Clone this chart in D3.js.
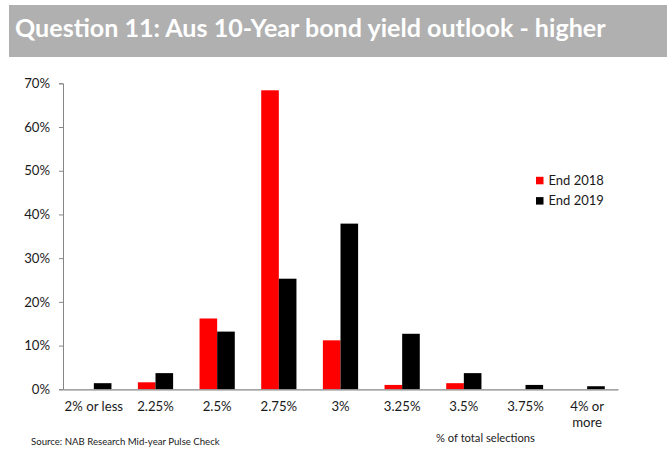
<!DOCTYPE html>
<html>
<head>
<meta charset="utf-8">
<script src="https://cdn.jsdelivr.net/npm/d3@7/dist/d3.min.js"></script>
<style>
  html, body { margin: 0; padding: 0; background: #fff; }
  svg { display: block; font-family: Lato, "Liberation Sans", sans-serif; }
</style>
</head>
<body>
<svg id="chart" width="667" height="451"></svg>
<script>
// Survey answers: share of total selections per yield bucket
const categories = ["2% or less", "2.25%", "2.5%", "2.75%", "3%", "3.25%", "3.5%", "3.75%", "4% or more"];
const seriesNames = ["End 2018", "End 2019"];
const end2018 = [0, 1.6, 16.2, 68.4, 11.2, 1.0, 1.4, 0, 0];
const end2019 = [1.4, 3.7, 13.2, 25.3, 37.9, 12.7, 3.7, 1.0, 0.7];
const yTicks = [0, 10, 20, 30, 40, 50, 60, 70];
const seriesColors = ["#ff0000", "#000000"];

const svg = d3.select("#chart");

// fit a text element to a given width by scaling its font size
function fitWidth(sel, size, width) {
  sel.attr("font-size", size);
  const w = sel.node().getComputedTextLength();
  sel.attr("font-size", size * width / w);
}

// Header band
svg.append("rect")
  .attr("x", 9).attr("y", 5).attr("width", 658).attr("height", 52)
  .attr("fill", "#b0b0b0");
const title = svg.append("text")
  .attr("x", 15).attr("y", 37)
  .attr("fill", "#ffffff")
  .attr("font-weight", 700)
  .text("Question 11: Aus 10-Year bond yield outlook - higher");
fitWidth(title, 24, 591);

// Scales
const x0 = d3.scaleBand().domain(categories).range([63, 618]).padding(0);
const bw = x0.bandwidth();
const gapSide = bw * 0.75 / 3.5;
const x1 = d3.scaleBand().domain(seriesNames).range([gapSide, bw - gapSide]).padding(0);
const y = d3.scaleLinear().domain([0, 70]).range([389.3, 83.3]);

// Y axis
const yAxis = svg.append("g")
  .attr("transform", "translate(63,0)")
  .call(d3.axisLeft(y).tickValues(yTicks).tickSize(4).tickPadding(9).tickFormat(d => d + "%"));
yAxis.select(".domain").attr("stroke", "#868686");
yAxis.selectAll(".tick line").attr("stroke", "#868686");
yAxis.selectAll(".tick text")
  .attr("font-family", "Lato, 'Liberation Sans', sans-serif")
  .attr("font-size", 13.2).attr("fill", "#1a1a1a");

// Bars
const rows = categories.map((c, i) => ({ cat: c, vals: [end2018[i], end2019[i]] }));
const groups = svg.append("g").selectAll("g")
  .data(rows).join("g")
  .attr("transform", d => `translate(${x0(d.cat)},0)`);
groups.selectAll("rect")
  .data(d => d.vals.map((v, k) => ({ key: seriesNames[k], v, k })))
  .join("rect")
  .attr("x", d => x1(d.key))
  .attr("width", x1.bandwidth())
  .attr("y", d => y(d.v))
  .attr("height", d => y(0) - y(d.v))
  .attr("fill", d => seriesColors[d.k]);

// X axis
const xAxis = svg.append("g")
  .attr("transform", `translate(0,${y(0)})`)
  .call(d3.axisBottom(x0).tickSize(0).tickPadding(0));
xAxis.select(".domain").attr("stroke", "#868686").attr("stroke-width", 1.2);
xAxis.selectAll(".tick text").remove();
xAxis.selectAll(".tick").each(function(d) {
  const lines = d === "4% or more" ? ["4% or", "more"] : [d];
  const t = d3.select(this).append("text")
    .attr("fill", "#1a1a1a")
    .attr("font-size", 13.2)
    .attr("font-family", "Lato, 'Liberation Sans', sans-serif")
    .attr("text-anchor", "middle");
  lines.forEach((l, i) => t.append("tspan").attr("x", 0).attr("y", 22 + i * 16).text(l));
});

// Legend
const legend = svg.append("g").attr("transform", "translate(536,0)");
seriesNames.forEach((name, i) => {
  const cy = 180.5 + i * 20.3;
  legend.append("rect").attr("x", 0).attr("y", cy - 3.7).attr("width", 7.5).attr("height", 7.5)
    .attr("fill", seriesColors[i]);
  legend.append("text").attr("x", 12.5).attr("y", cy + 4.5)
    .attr("font-size", 13).attr("fill", "#1a1a1a").text(name);
});

// Footer notes
const src = svg.append("text").attr("x", 31).attr("y", 444.5)
  .attr("fill", "#1a1a1a")
  .text("Source:  NAB Research Mid-year Pulse Check");
fitWidth(src, 9, 189);
const unit = svg.append("text").attr("x", 436).attr("y", 441.5)
  .attr("fill", "#1a1a1a")
  .text("% of total selections");
fitWidth(unit, 10.5, 99);
</script>
</body>
</html>
